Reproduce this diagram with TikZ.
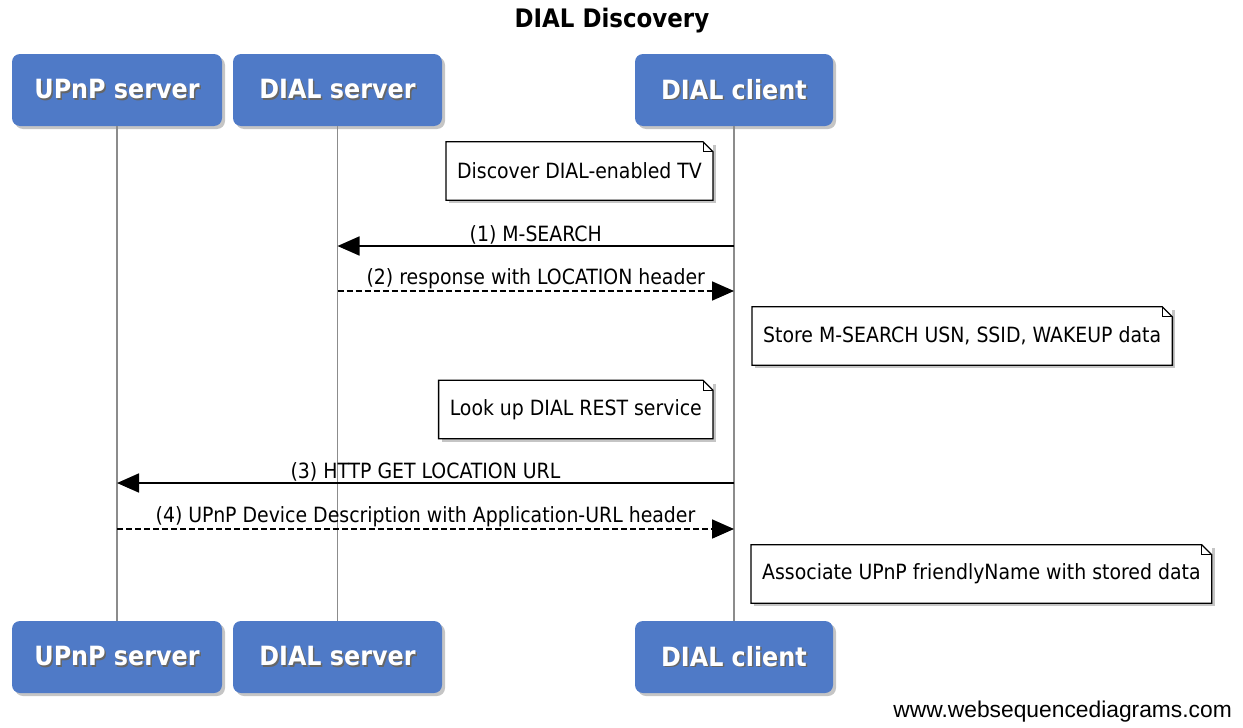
\documentclass[tikz,border=0pt]{standalone}
\usepackage{fontspec}
\setmainfont{DejaVu Sans Condensed}
\newfontfamily\footfont{Liberation Sans}
\usetikzlibrary{shadows,arrows.meta}
\definecolor{actorblue}{RGB}{79,122,199}
\definecolor{lifegray}{RGB}{140,140,140}
\newcommand\shadowtext[1]{\leavevmode\rlap{\hspace{1.5pt}\raisebox{-1.5pt}{\color{black!60}#1}}#1}
\begin{document}
\begin{tikzpicture}[x=1pt,y=-1pt,
  actor/.style={rounded corners=8pt, fill=actorblue, draw=none, text=white,
    minimum height=72pt, inner sep=0pt, font=\bfseries\fontsize{26.5}{30}\selectfont,
    drop shadow={shadow xshift=3pt, shadow yshift=-3pt, opacity=0.45}},
  notebox/.style={fill=white, draw=none, minimum height=58pt, inner xsep=11pt,
    font=\fontsize{21}{25}\selectfont,
    drop shadow={shadow xshift=3pt, shadow yshift=-3pt, opacity=0.45}},
  life/.style={draw=lifegray, line width=1.8pt},
  msg/.style={line width=1.8pt, -{Triangle[length=22pt,width=19pt]}},
  reply/.style={msg, dash pattern=on 6pt off 3pt},
  lbl/.style={font=\fontsize{21}{25}\selectfont, inner sep=1pt, anchor=south}]
\useasboundingbox (0,0) rectangle (1243,728);
\fill[white] (0,0) rectangle (1243,728);

\node[font=\bfseries\fontsize{25.5}{30}\selectfont] (title) at (612,21) {DIAL Discovery};

% actors top
\node[actor, minimum width=210pt] (uT) at (117,90) {\shadowtext{UPnP server}};
\node[actor, minimum width=209pt] (sT) at (337.5,90) {\shadowtext{DIAL server}};
\node[actor, minimum width=198pt] (cT) at (734,90) {\shadowtext{DIAL client}};
% actors bottom
\node[actor, minimum width=210pt] (uB) at (117,657) {\shadowtext{UPnP server}};
\node[actor, minimum width=209pt] (sB) at (337.5,657) {\shadowtext{DIAL server}};
\node[actor, minimum width=198pt] (cB) at (734,657) {\shadowtext{DIAL client}};

% lifelines
\draw[life] (uT.south) -- (uB.north);
\draw[life] (sT.south) -- (sB.north);
\draw[life] (cT.south) -- (cB.north);

% notes
\node[notebox, anchor=east] (n1) at (713,171) {Discover DIAL-enabled TV};
\node[notebox, anchor=west] (n2) at (752,336) {Store M-SEARCH USN, SSID, WAKEUP data};
\node[notebox, anchor=east] (n3) at (713,409.5) {Look up DIAL REST service};
\node[notebox, anchor=west] (n4) at (751,574) {Associate UPnP friendlyName with stored data};
\foreach \n in {n1,n2,n3,n4}{
  \draw[line width=1.3pt] (\n.south west) -- (\n.north west)
    -- ([xshift=-10pt]\n.north east) -- ([yshift=-10pt]\n.north east)
    -- (\n.south east) -- cycle;
  \draw[line width=1pt] ([xshift=-10pt]\n.north east) -- ([xshift=-10pt,yshift=-10pt]\n.north east)
    -- ([yshift=-10pt]\n.north east);
}

% messages
\draw[msg] (cT.south |- 0,246) -- node[lbl] (l1) {(1) M-SEARCH} (sT.south |- 0,246);
\draw[reply] (sT.south |- 0,291) -- node[lbl] (l2) {(2) response with LOCATION header} (cT.south |- 0,291);
\draw[msg] (cT.south |- 0,483) -- node[lbl] (l3) {(3) HTTP GET LOCATION URL} (uT.south |- 0,483);
\draw[reply] (uT.south |- 0,529) -- node[lbl] (l4) {(4) UPnP Device Description with Application-URL header} (cT.south |- 0,529);

\node[font=\footfont\fontsize{22.8}{26}\selectfont, anchor=east, inner sep=0pt] (foot) at (1232,712) {www.websequencediagrams.com};
\end{tikzpicture}
\end{document}
